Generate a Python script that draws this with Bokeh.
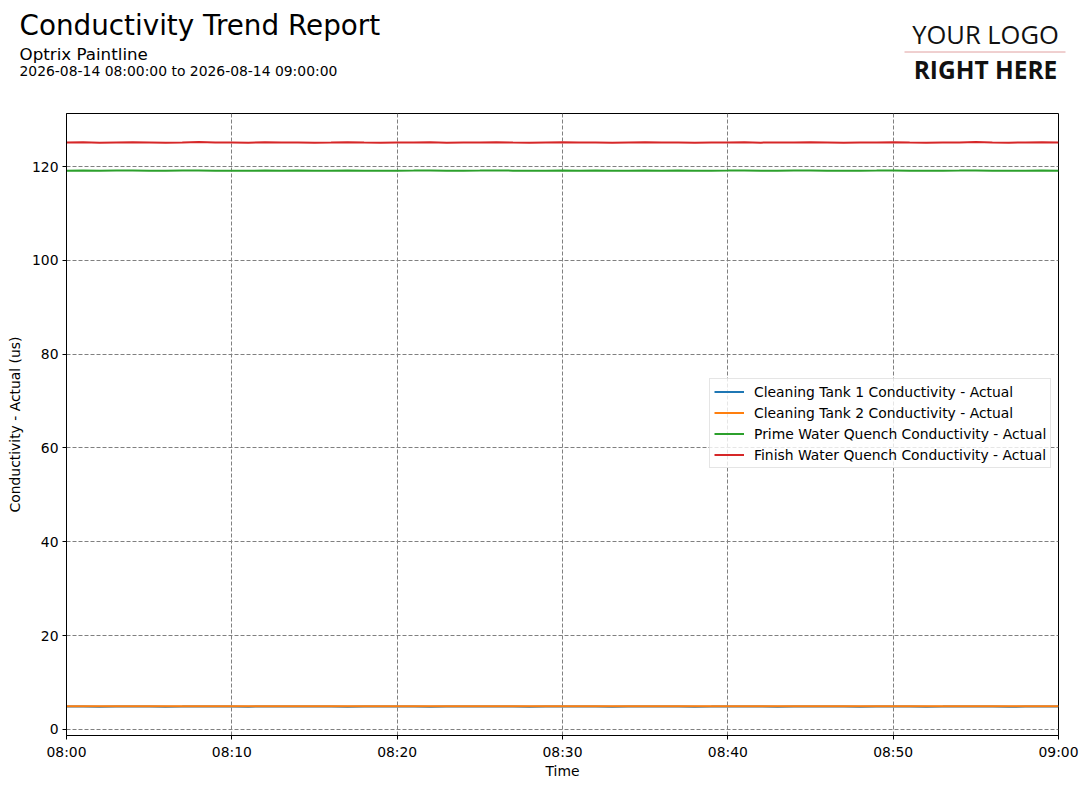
import pandas as pd
from bokeh.plotting import figure
from bokeh.layouts import column
from bokeh.models import (Label, Legend, LegendItem, FixedTicker,
                          DatetimeTickFormatter, Range1d)
from bokeh.embed import file_html
from bokeh.resources import INLINE

# ---------------- data ----------------
title_text = "Conductivity Trend Report"
subtitle_text = "Optrix Paintline"
start_time = "2026-08-14 08:00:00"
end_time = "2026-08-14 09:00:00"
logo_top = "YOUR LOGO"
logo_bottom = "RIGHT HERE"

series_names = [
    "Cleaning Tank 1 Conductivity - Actual",
    "Cleaning Tank 2 Conductivity - Actual",
    "Prime Water Quench Conductivity - Actual",
    "Finish Water Quench Conductivity - Actual",
]
series_colors = ["#1f77b4", "#ff7f0e", "#2ca02c", "#d62728"]

tank1 = [4.86, 4.88, 4.85, 4.86, 4.87, 4.86, 4.85, 4.86, 4.88, 4.86,
         4.86, 4.85, 4.87, 4.86, 4.86, 4.88, 4.86, 4.85, 4.86, 4.87,
         4.86, 4.86, 4.85, 4.87, 4.86, 4.86, 4.88, 4.86, 4.85, 4.86,
         4.87, 4.86, 4.86, 4.85, 4.86, 4.87, 4.86, 4.86, 4.85, 4.86,
         4.88, 4.86, 4.86, 4.85, 4.87, 4.86, 4.86, 4.86, 4.85, 4.87,
         4.86, 4.86, 4.85, 4.86, 4.88, 4.86, 4.86, 4.85, 4.86, 4.87, 4.86]
tank2 = [4.92, 4.94, 4.91, 4.93, 4.93, 4.92, 4.92, 4.94, 4.93, 4.91,
         4.92, 4.93, 4.92, 4.93, 4.94, 4.92, 4.91, 4.93, 4.93, 4.92,
         4.92, 4.93, 4.94, 4.92, 4.91, 4.93, 4.93, 4.92, 4.92, 4.94,
         4.93, 4.92, 4.92, 4.93, 4.91, 4.93, 4.92, 4.94, 4.92, 4.93,
         4.92, 4.93, 4.91, 4.92, 4.93, 4.94, 4.92, 4.92, 4.93, 4.93,
         4.91, 4.92, 4.94, 4.93, 4.92, 4.92, 4.93, 4.92, 4.91, 4.93, 4.92]
prime = [119.12, 119.16, 119.09, 119.13, 119.15, 119.11, 119.10, 119.13, 119.16, 119.12,
         119.12, 119.09, 119.15, 119.12, 119.13, 119.10, 119.12, 119.16, 119.12, 119.09,
         119.12, 119.13, 119.15, 119.10, 119.12, 119.13, 119.16, 119.12, 119.09, 119.12,
         119.15, 119.12, 119.13, 119.10, 119.12, 119.15, 119.12, 119.13, 119.09, 119.12,
         119.13, 119.16, 119.10, 119.12, 119.13, 119.15, 119.12, 119.09, 119.12, 119.13,
         119.16, 119.12, 119.10, 119.12, 119.13, 119.15, 119.12, 119.09, 119.12, 119.15, 119.12]
finish = [125.12, 125.16, 125.09, 125.13, 125.15, 125.12, 125.09, 125.13, 125.20, 125.12,
          125.12, 125.09, 125.15, 125.12, 125.13, 125.09, 125.12, 125.16, 125.12, 125.09,
          125.12, 125.13, 125.15, 125.09, 125.12, 125.13, 125.16, 125.12, 125.09, 125.12,
          125.15, 125.12, 125.13, 125.09, 125.12, 125.16, 125.12, 125.13, 125.09, 125.12,
          125.13, 125.16, 125.09, 125.12, 125.13, 125.15, 125.12, 125.09, 125.12, 125.13,
          125.16, 125.12, 125.09, 125.12, 125.13, 125.20, 125.12, 125.09, 125.12, 125.15, 125.12]
series_values = [tank1, tank2, prime, finish]

x_tick_labels = ["08:00", "08:10", "08:20", "08:30", "08:40", "08:50", "09:00"]
y_ticks = [0, 20, 40, 60, 80, 100, 120]
y_min, y_max = -1.3, 131.3

times = pd.date_range(start_time, end_time, freq="1min")

W = 1087
HEADER_H = 100
MAIN_H = 688

# ---------------- header (titles + logo) ----------------
hdr = figure(width=W, height=HEADER_H, output_backend="svg", toolbar_location=None,
             x_range=Range1d(0, W), y_range=Range1d(HEADER_H, 0),
             x_axis_location=None, y_axis_location=None,
             min_border=0, min_border_left=0, min_border_right=0,
             min_border_top=0, min_border_bottom=0)
hdr.frame_align = False
hdr.grid.visible = False
hdr.outline_line_color = None
hdr.background_fill_color = "white"
hdr.border_fill_color = "white"

hdr.add_layout(Label(x=19, y=25, text=title_text, text_font="DejaVu Sans",
                     text_font_size="27.8px", text_color="black", text_baseline="alphabetic"))
hdr.add_layout(Label(x=19, y=53, text=subtitle_text, text_font="DejaVu Sans",
                     text_font_size="16.7px", text_color="black", text_baseline="alphabetic"))
hdr.add_layout(Label(x=19, y=70, text=f"{start_time} to {end_time}", text_font="DejaVu Sans",
                     text_font_size="13.9px", text_color="black", text_baseline="alphabetic"))
hdr.add_layout(Label(x=985, y=33, text=logo_top, text_font="Open Sans",
                     text_font_size="25.5px", text_color="#111111",
                     text_align="center", text_baseline="alphabetic"))
hdr.segment(x0=[904], y0=[51.5], x1=[1065], y1=[51.5], line_color="#e0a0a0", line_width=1)
hdr.add_layout(Label(x=985, y=69, text=logo_bottom, text_font="Open Sans",
                     text_font_size="24.5px", text_font_style="bold", text_color="#111111",
                     text_align="center", text_baseline="alphabetic"))

# ---------------- main chart ----------------
p = figure(width=W, height=MAIN_H, x_axis_type="datetime", output_backend="svg",
           toolbar_location=None,
           x_range=Range1d(pd.Timestamp(start_time), pd.Timestamp(end_time)),
           y_range=Range1d(y_min, y_max),
           min_border_left=66, min_border_right=29, min_border_top=13, min_border_bottom=53)
p.frame_align = False
p.background_fill_color = "white"
p.border_fill_color = "white"
p.outline_line_color = "black"
p.outline_line_width = 1
p.outline_line_alpha = 1

renderers = []
for vals, col in zip(series_values, series_colors):
    r = p.line(times, vals, line_color=col, line_width=2)
    renderers.append(r)

day = start_time.split(" ")[0]
tick_ms = [pd.Timestamp(f"{day} {t}").value // 10**6 for t in x_tick_labels]
p.xaxis.ticker = FixedTicker(ticks=tick_ms)
fmt = "%H:%M"
p.xaxis.formatter = DatetimeTickFormatter(seconds=fmt, minsec=fmt, minutes=fmt,
                                          hourmin=fmt, hours=fmt, days=fmt)
p.yaxis.ticker = FixedTicker(ticks=y_ticks)
p.xaxis.axis_label = "Time"
p.yaxis.axis_label = "Conductivity - Actual (us)"
for ax in (p.xaxis, p.yaxis):
    ax.axis_label_text_font = "DejaVu Sans"
    ax.axis_label_text_font_style = "normal"
    ax.axis_label_text_font_size = "13.9px"
    ax.axis_label_text_color = "black"
    ax.major_label_text_font = "DejaVu Sans"
    ax.major_label_text_font_size = "13.9px"
    ax.major_label_text_color = "black"
    ax.axis_line_color = "black"
    ax.major_tick_line_color = "black"
    ax.major_tick_out = 4
    ax.major_tick_in = 0
    ax.minor_tick_line_color = None
    ax.major_label_standoff = 4
p.xaxis.axis_label_standoff = 0
p.yaxis.axis_label_standoff = 6

for g in (p.xgrid, p.ygrid):
    g.grid_line_color = "#808080"
    g.grid_line_dash = "4 2"
    g.grid_line_width = 1

legend = Legend(items=[LegendItem(label=n, renderers=[r]) for n, r in zip(series_names, renderers)],
                location=(643, 267))
legend.label_text_font = "DejaVu Sans"
legend.label_text_font_size = "13.9px"
legend.label_text_color = "black"
legend.padding = 4
legend.spacing = 4
legend.label_height = 17
legend.glyph_height = 17
legend.glyph_width = 30
legend.label_standoff = 10
legend.margin = 0
legend.border_line_color = "#cccccc"
legend.border_line_width = 1
legend.background_fill_color = "white"
legend.background_fill_alpha = 0.8
p.add_layout(legend)

layout = column(hdr, p, spacing=0)
open("out.html", "w").write(file_html(layout, INLINE))
